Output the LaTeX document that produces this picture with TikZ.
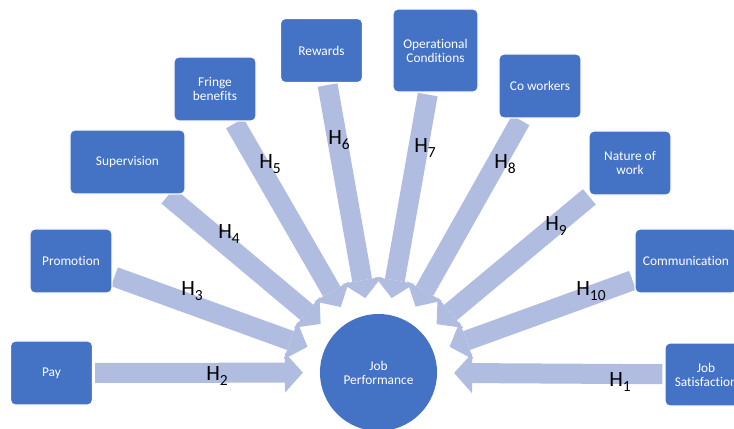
\documentclass[tikz,border=0pt]{standalone}
\usepackage{fontspec}
\setmainfont{Carlito}[Ligatures=NoCommon]
\usetikzlibrary{arrows.meta, backgrounds}
\definecolor{factorblue}{HTML}{4472C4}
\definecolor{linkblue}{HTML}{B0BDE0}
\newcommand{\hyp}[1]{H\raisebox{-0.22em}{\fontsize{11}{11}\selectfont #1}}

\begin{document}
\begin{tikzpicture}[
    x=0.025cm, y=-0.025cm,
    font=\fontsize{9.5}{10}\selectfont,
    factorbox/.style={draw=white, line width=0.8pt, fill=factorblue, rounded corners=3.5pt,
                      text=white, align=center, inner sep=2pt,
                      minimum width=2.05cm, minimum height=1.6cm},
    outcome/.style={circle, fill=factorblue, text=white, align=center, minimum size=2.925cm},
    hyparrow/.style={draw=linkblue, line width=0.5cm,
                     -{Triangle[length=0.45cm, width=1cm, line width=0pt]},
                     shorten <=0.05cm, shorten >=0.42cm},
    hlabel/.style={font=\fontsize{15.5}{16}\selectfont, inner sep=0pt}
]
\useasboundingbox (0,0) rectangle (734,428);
\clip (0,0) rectangle (734,428);

\node[outcome] (perf) at (378.5,372.5) {Job\\Performance};

\node[factorbox] (pay) at (51.5,373) {Pay};
\node[factorbox] (promo) at (71,261) {Promotion};
\node[factorbox, minimum width=2.875cm] (super) at (127.5,162) {Supervision};
\node[factorbox] (fringe) at (215,89) {Fringe\\benefits};
\node[factorbox] (reward) at (321.5,50.5) {Rewards};
\node[factorbox, minimum width=2.125cm, minimum height=2.075cm] (operate) at (435.5,50.5) {Operational\\Conditions};
\node[factorbox] (cowork) at (540,86) {Co workers};
\node[factorbox] (nature) at (630,163) {Nature of\\work};
\node[factorbox, minimum width=2.55cm] (comm) at (686,261) {Communication};
\node[factorbox, minimum height=1.575cm] (satisf) at (706,374.5) {Job\\Satisfaction};

\begin{scope}[on background layer]
\draw[hyparrow] (satisf) -- (perf);
\draw[hyparrow] (pay) -- (perf);
\draw[hyparrow] (promo) -- (perf);
\draw[hyparrow] (super) -- (perf);
\draw[hyparrow] (fringe) -- (perf);
\draw[hyparrow] (reward) -- (perf);
\draw[hyparrow] (operate) -- (perf);
\draw[hyparrow] (cowork) -- (perf);
\draw[hyparrow] (nature) -- (perf);
\draw[hyparrow] (comm) -- (perf);
\end{scope}

\node[hlabel] (h1) at (620,382) {\hyp{1}};
\node[hlabel] (h2) at (217,376) {\hyp{2}};
\node[hlabel] (h3) at (192,291) {\hyp{3}};
\node[hlabel] (h4) at (229,234) {\hyp{4}};
\node[hlabel] (h5) at (270,164) {\hyp{5}};
\node[hlabel] (h6) at (339,140) {\hyp{6}};
\node[hlabel] (h7) at (425,148) {\hyp{7}};
\node[hlabel] (h8) at (505,164) {\hyp{8}};
\node[hlabel] (h9) at (556,226) {\hyp{9}};
\node[hlabel] (h10) at (591,291) {\hyp{10}};

\end{tikzpicture}
\end{document}
